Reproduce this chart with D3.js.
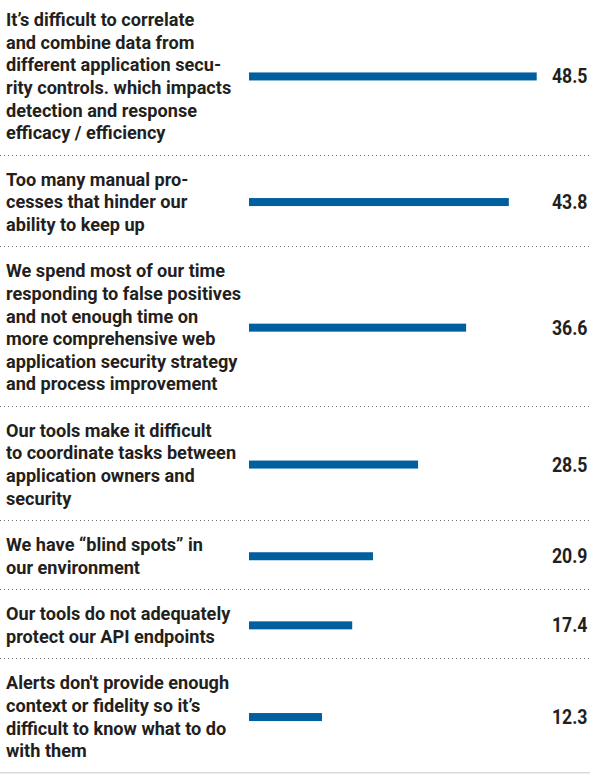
<!DOCTYPE html>
<html>
<head>
<meta charset="utf-8">
<script src="https://cdn.jsdelivr.net/npm/d3@7"></script>
<style>
  html, body { margin: 0; padding: 0; background: #fff; }
  svg { display: block; }
  .lbl, .val { font-family: "Roboto", "Liberation Sans", sans-serif; fill: #231f20; }
  .lbl { font-weight: 700; }
  .val { font-weight: 700; }
</style>
</head>
<body>
<svg id="chart" width="590" height="774"></svg>
<script>
// ---- data ----
const categories = [
  ["It\u2019s difficult to correlate", "and combine data from", "different application secu-", "rity controls. which impacts", "detection and response", "efficacy / efficiency"],
  ["Too many manual pro-", "cesses that hinder our", "ability to keep up"],
  ["We spend most of our time", "responding to false positives", "and not enough time on", "more comprehensive web", "application security strategy", "and process improvement"],
  ["Our tools make it difficult", "to coordinate tasks between", "application owners and", "security"],
  ["We have \u201cblind spots\u201d in", "our environment"],
  ["Our tools do not adequately", "protect our API endpoints"],
  ["Alerts don't provide enough", "context or fidelity so it\u2019s", "difficult to know what to do", "with them"]
];
const values = [48.5, 43.8, 36.6, 28.5, 20.9, 17.4, 12.3];
const valueLabels = ["48.5", "43.8", "36.6", "28.5", "20.9", "17.4", "12.3"];

// ---- layout ----
const W = 590;
const lineH = 22.6, rowPad = 46.5, firstBase = 31;
const labelSize = 18.7, valueSize = 19.7;
const rowH = categories.map(c => rowPad + lineH * (c.length - 1));
const y0 = 772.7 - d3.sum(rowH);
const rowTop = [];
let acc = y0;
rowH.forEach(h => { rowTop.push(acc); acc += h; });

const x = d3.scaleLinear().domain([0, 48.5]).range([249, 536.7]);

const svg = d3.select("#chart");

// measure condensing factors so the wide fallback fonts match the narrow original face
function measure(cls, size, str) {
  const t = svg.append("text").attr("class", cls).attr("font-size", size).text(str);
  const w = t.node().getComputedTextLength();
  t.remove();
  return w;
}
const labelSX = 235 / measure("lbl", labelSize, "responding to false positives");
const valueSX = 35.6 / measure("val", valueSize, "48.5");

const rows = svg.selectAll("g.row").data(values).join("g").attr("class", "row");

// labels
rows.each(function(v, i) {
  const g = d3.select(this);
  const t = g.append("text").attr("class", "lbl").attr("font-size", labelSize)
    .attr("transform", `translate(6,0) scale(${labelSX},1)`);
  categories[i].forEach((line, j) => {
    t.append("tspan").attr("x", 0).attr("y", rowTop[i] + firstBase + j * lineH).text(line);
  });
});

// bars
rows.append("rect")
  .attr("x", x(0))
  .attr("y", (d, i) => rowTop[i] + rowH[i] / 2 + 1.5 - 4)
  .attr("width", d => x(d) - x(0))
  .attr("height", 8)
  .attr("fill", "#005f9e");

// values
rows.append("text")
  .attr("class", "val")
  .attr("font-size", valueSize)
  .attr("text-anchor", "end")
  .attr("transform", `translate(587.5,0) scale(${valueSX},1)`)
  .attr("x", 0)
  .attr("y", (d, i) => rowTop[i] + rowH[i] / 2 + 1.5 + 7)
  .text((d, i) => valueLabels[i]);

// separators (dotted)
const seps = rowTop.slice(1);
seps.forEach(yy => {
  const yl = Math.round(yy) + 0.5;
  svg.append("line").attr("x1", 0).attr("x2", 247).attr("y1", yl).attr("y2", yl)
    .attr("stroke", "#6d6e71").attr("stroke-width", 1).attr("stroke-dasharray", "1,3");
  svg.append("line").attr("x1", 248).attr("x2", W).attr("y1", yl).attr("y2", yl)
    .attr("stroke", "#6d6e71").attr("stroke-width", 1).attr("stroke-dasharray", "1,3");
});
// bottom solid line
svg.append("line").attr("x1", 0).attr("x2", W).attr("y1", 772.7).attr("y2", 772.7)
  .attr("stroke", "#d9d9d9").attr("stroke-width", 1.5);
</script>
</body>
</html>
